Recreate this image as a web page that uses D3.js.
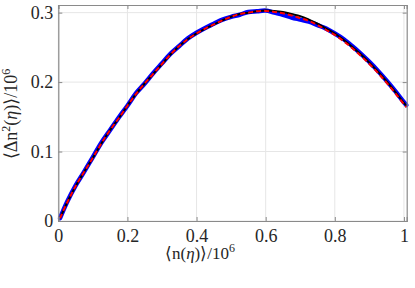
<!DOCTYPE html>
<html>
<head>
<meta charset="utf-8">
<script src="https://cdn.jsdelivr.net/npm/d3@7"></script>
<style>
  body { margin: 0; background: #fff; }
</style>
</head>
<body>
<div class="chart"></div>
<script>
// data
var nMean = [0.005, 0.025, 0.05, 0.075, 0.1, 0.125, 0.15, 0.175, 0.2, 0.225, 0.25, 0.275, 0.3, 0.325, 0.35, 0.375,
             0.4, 0.425, 0.45, 0.475, 0.5, 0.525, 0.55, 0.575, 0.6, 0.625, 0.65, 0.675, 0.7, 0.725, 0.75, 0.775,
             0.8, 0.825, 0.85, 0.875, 0.9, 0.925, 0.95, 0.975, 1.0, 1.007];
// measured (blue)
var varData = [0.004, 0.027, 0.051, 0.071, 0.092, 0.113, 0.131, 0.149, 0.166, 0.184, 0.198, 0.213, 0.227, 0.241, 0.252, 0.263,
               0.271, 0.278, 0.284, 0.290, 0.294, 0.297, 0.301, 0.302, 0.303, 0.300, 0.297, 0.293, 0.290, 0.287, 0.282, 0.277,
               0.270, 0.262, 0.252, 0.241, 0.229, 0.216, 0.202, 0.187, 0.171, 0.167];
// theory (black)
var varTheory = [0.004, 0.026, 0.050, 0.071, 0.091, 0.112, 0.131, 0.148, 0.166, 0.183, 0.198, 0.212, 0.226, 0.240, 0.252, 0.262,
                 0.270, 0.277, 0.283, 0.289, 0.294, 0.298, 0.300, 0.302, 0.303, 0.3025, 0.301, 0.298, 0.295, 0.290, 0.284, 0.277,
                 0.270, 0.261, 0.251, 0.240, 0.228, 0.215, 0.201, 0.186, 0.170, 0.166];
// fit (red dashed)
var varFit = [0.004, 0.026, 0.050, 0.071, 0.091, 0.112, 0.131, 0.148, 0.166, 0.183, 0.198, 0.212, 0.226, 0.240, 0.252, 0.262,
              0.270, 0.277, 0.283, 0.289, 0.294, 0.298, 0.300, 0.302, 0.3025, 0.301, 0.299, 0.296, 0.292, 0.288, 0.282, 0.275,
              0.268, 0.259, 0.249, 0.238, 0.226, 0.213, 0.199, 0.184, 0.168, 0.164];
var xTicks = [0, 0.2, 0.4, 0.6, 0.8, 1];
var yTicks = [0, 0.1, 0.2, 0.3];

const W = 415, H = 288;
const FONT = "'Liberation Serif', 'Times New Roman', Tinos";
var margin = {top: 5, right: 8.3, bottom: 67, left: 58.3};
const width = W - margin.left - margin.right;
const height = H - margin.top - margin.bottom;

var svg = d3.select('.chart').append('svg')
            .attr('width', W).attr('height', H)
            .style('font-family', FONT);
var g = svg.append('g').attr('transform', `translate(${margin.left},${margin.top})`);

var x = d3.scaleLinear().domain([0, 1.008]).range([0, width]);
var y = d3.scaleLinear().domain([0, 0.311]).range([height, 0]);

// grid
g.append('g').selectAll('line').data(xTicks).enter().append('line')
  .attr('x1', d => x(d)).attr('x2', d => x(d)).attr('y1', 0).attr('y2', height)
  .attr('stroke', '#e6e6e6').attr('stroke-width', 1);
g.append('g').selectAll('line').data(yTicks).enter().append('line')
  .attr('y1', d => y(d)).attr('y2', d => y(d)).attr('x1', 0).attr('x2', width)
  .attr('stroke', '#e6e6e6').attr('stroke-width', 1);

// lines: data (blue, thick), theory (black), fit (red dashed)
var pts = arr => nMean.map((v, i) => [v, arr[i]]);
var smooth = d3.line().x(d => x(d[0])).y(d => y(d[1])).curve(d3.curveCatmullRom);

g.append('path').datum(pts(varData)).attr('d', smooth)
  .attr('fill', 'none').attr('stroke', '#0000ff').attr('stroke-width', 4.5)
  .attr('stroke-linejoin', 'round').attr('stroke-linecap', 'round');
g.append('path').datum(pts(varTheory)).attr('d', smooth)
  .attr('fill', 'none').attr('stroke', '#000').attr('stroke-width', 2);
g.append('path').datum(pts(varFit)).attr('d', smooth)
  .attr('fill', 'none').attr('stroke', '#ff0000').attr('stroke-width', 2)
  .attr('stroke-dasharray', '5,3');

// axes (box with inward ticks on all sides)
var xAxis = d3.axisBottom(x).tickValues(xTicks).tickSize(-4).tickPadding(8).tickFormat(d3.format('~g'));
var yAxis = d3.axisLeft(y).tickValues(yTicks).tickSize(-4).tickPadding(5).tickFormat(d3.format('~g'));
g.append('g').attr('transform', `translate(0,${height})`).call(xAxis);
g.append('g').call(yAxis);
g.append('g').call(d3.axisTop(x).tickValues(xTicks).tickSize(-4).tickFormat(''));
g.append('g').attr('transform', `translate(${width},0)`).call(d3.axisRight(y).tickValues(yTicks).tickSize(-4).tickFormat(''));

g.selectAll('.domain').attr('stroke', '#8a8a8a').attr('stroke-width', 1.2);
g.selectAll('.tick line').attr('stroke', '#8a8a8a');
g.selectAll('g').attr('font-family', null);
g.selectAll('.tick text')
  .attr('font-family', FONT).style('font-family', FONT)
  .style('font-size', '18px').attr('fill', '#262626');

// axis labels
var xl = svg.append('text').attr('x', 200).attr('y', 259).attr('text-anchor', 'middle')
  .style('font-family', FONT).style('font-size', '17px').attr('fill', '#262626');
xl.append('tspan').text('⟨n(');
xl.append('tspan').style('font-style', 'italic').text('η');
xl.append('tspan').text(')⟩/10');
xl.append('tspan').attr('dy', -7).style('font-size', '12px').text('6');

var yl = svg.append('text').attr('transform', 'translate(17,114) rotate(-90)').attr('text-anchor', 'middle')
  .style('font-family', FONT).style('font-size', '18px').attr('fill', '#262626');
yl.append('tspan').text('⟨Δn');
yl.append('tspan').attr('dy', -7).style('font-size', '12px').text('2');
yl.append('tspan').attr('dy', 7).text('(');
yl.append('tspan').style('font-style', 'italic').text('η');
yl.append('tspan').text(')⟩/10');
yl.append('tspan').attr('dy', -7).style('font-size', '12px').text('6');
</script>
</body>
</html>
